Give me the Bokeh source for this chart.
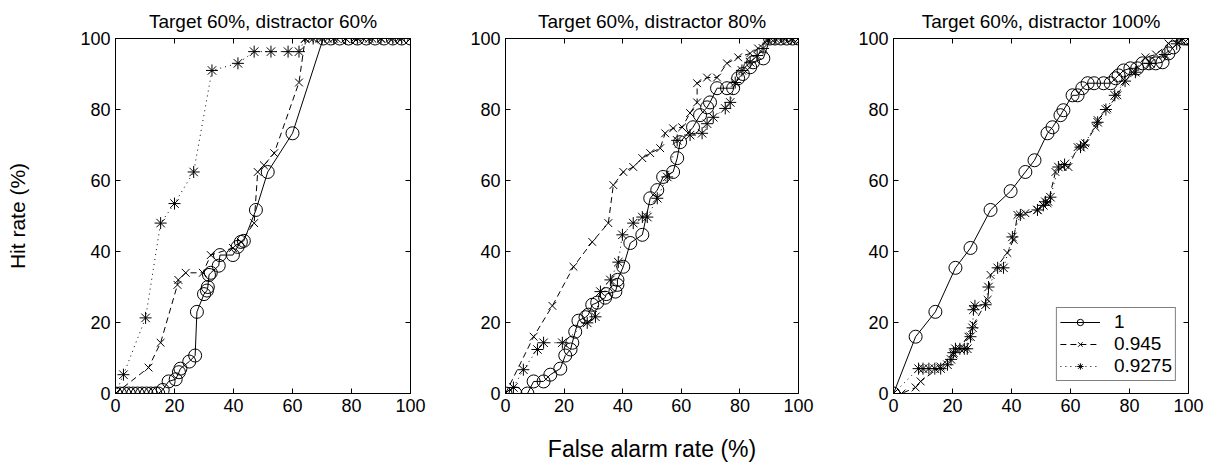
from bokeh.plotting import figure
from bokeh.layouts import row
from bokeh.models import LinearAxis, FixedTicker, Range1d, Legend, LegendItem
from bokeh.embed import file_html
from bokeh.resources import INLINE

titles = ["Target 60%, distractor 60%", "Target 60%, distractor 80%", "Target 60%, distractor 100%"]
series_labels = ["1", "0.945", "0.9275"]
ticks = [0, 20, 40, 60, 80, 100]
x_title = "False alarm rate (%)"
y_title = "Hit rate (%)"

# ---- Panel 1 (distractor 60%) ----
p1_s1_x = [0, 1.5, 3, 4.5, 6, 7.5, 9, 10.5, 12, 13.5, 14.5, 16, 18, 20.4, 21.5, 22, 25, 27, 27.6, 30, 31, 31.3, 31.7, 32.3, 35, 35.4, 39.8, 41.4, 42.5, 43.5, 47.6, 51.6, 60, 70.4, 73, 76, 79, 82, 85, 88, 91, 94, 97, 100]
p1_s1_y = [0, 0, 0, 0, 0, 0, 0, 0, 0, 0, 0, 1, 3.4, 4, 6, 7, 9, 10.7, 23, 28, 29, 30, 33.4, 34, 36, 39, 39, 41.3, 42.7, 43, 51.7, 62.4, 73.3, 100, 100, 100, 100, 100, 100, 100, 100, 100, 100, 100]
p1_s2_x = [0, 11.2, 15.3, 21, 21.3, 23.8, 29.6, 32.3, 39.8, 42.5, 47, 48.2, 50.3, 53.8, 62.2, 64.3, 66, 69, 72, 75, 78, 81, 84, 87, 90, 93, 96, 100]
p1_s2_y = [0, 7.3, 14.3, 30.6, 32, 34, 34, 39, 41, 42.7, 48, 62.4, 64.3, 67.7, 87.6, 100, 100, 100, 100, 100, 100, 100, 100, 100, 100, 100, 100, 100]
p1_s3_x = [0, 2.7, 10.2, 15.3, 20, 26.5, 32.7, 41.5, 47, 52.7, 58.5, 62.2, 64.3, 67, 70, 74, 78, 82, 86, 90, 94, 97, 100]
p1_s3_y = [0, 5.3, 21.3, 48, 53.5, 62.4, 91, 93, 96.3, 96.3, 96.3, 96.3, 100, 100, 100, 100, 100, 100, 100, 100, 100, 100, 100]

# ---- Panel 2 (distractor 80%) ----
p2_s1_x = [0, 3.4, 7.5, 9.6, 13, 15.3, 18.7, 20.4, 22.2, 22.8, 23.8, 24.9, 27.3, 28.3, 29.6, 31.3, 34, 34.4, 37.5, 38.2, 38.2, 40.2, 42.6, 46.7, 49.4, 51.8, 53.8, 57.2, 58.6, 59.6, 64, 66.4, 68.8, 69.8, 72.2, 75.6, 77.7, 79.4, 81, 83.5, 84.5, 88, 90.3, 92, 94, 96, 98, 100]
p2_s1_y = [0, 0, 0, 3.4, 3.4, 5.3, 7, 10.7, 12.4, 14.3, 17.4, 20.5, 21.5, 22.2, 25, 25.6, 27, 28, 28.7, 30.6, 32, 35.7, 42.4, 44.7, 55, 57.3, 61, 62.4, 66.3, 70.8, 75, 78.4, 80.6, 82, 86, 86, 86, 88.8, 90, 91.9, 93.3, 94.4, 100, 100, 100, 100, 100, 100]
p2_s2_x = [0, 9.6, 16, 23.2, 29.6, 35.1, 36.8, 40.2, 43.6, 46.7, 49.4, 52.8, 54.5, 57.2, 60.3, 63, 65.4, 65.4, 68.8, 72.2, 75.6, 79.4, 83.5, 86.2, 89.3, 90.5, 93, 95.5, 98, 100]
p2_s2_y = [0, 16, 24.7, 35.7, 42.7, 48, 58.7, 62.4, 63.8, 66.3, 67.7, 69.1, 73.3, 74.7, 75, 79, 82, 87.4, 89, 89, 93, 94.7, 95.8, 97.2, 99.4, 100, 100, 100, 100, 100]
p2_s3_x = [0, 2.7, 6.1, 10.9, 13, 19.4, 27.9, 30.7, 32.4, 35.8, 38.5, 39.9, 43.6, 46.7, 48.4, 51.8, 55.2, 58.6, 63, 67.1, 68.8, 70.9, 75, 76.7, 78.4, 80.7, 83.5, 85.9, 87.9, 89.6, 92, 95, 97.5, 100]
p2_s3_y = [0, 1.7, 6.7, 12.4, 14.3, 14.3, 19.9, 21.6, 28.7, 32, 37, 44.7, 48, 49.7, 49.7, 55, 61, 71.3, 72.8, 73.3, 76, 77.8, 80.3, 82, 87.6, 91, 93.3, 95.2, 97.2, 100, 100, 100, 100, 100]

# ---- Panel 3 (distractor 100%) ----
p3_s1_x = [0, 7.5, 14.2, 21, 26.1, 32.9, 39.7, 44.7, 47.8, 52.2, 53.9, 56.6, 57.6, 60.7, 62.4, 64, 65.8, 68, 71.2, 73.6, 75.3, 76.3, 78, 80.3, 82.6, 84.4, 86.6, 88.9, 91.2, 93.2, 94.9, 98.3, 99.4, 100]
p3_s1_y = [0, 16, 23, 35.4, 41, 51.7, 57, 62.4, 65.7, 73.3, 75, 78.4, 79.8, 84, 84, 86, 87.4, 87.4, 87.4, 87.4, 88.8, 89.6, 91, 91.6, 91.6, 93, 93, 93, 93.3, 95.8, 97.5, 100, 100, 100]
p3_s2_x = [0, 2.7, 7.5, 9.2, 15.9, 20.3, 25.4, 27.1, 31.9, 32.9, 38.6, 40.7, 42, 44.7, 48.8, 52.2, 52.5, 54.9, 57.3, 59.3, 62.4, 65, 68.5, 69.2, 72.5, 75.9, 78.5, 81, 85.4, 89, 93.2, 98, 100]
p3_s2_y = [0, 0, 1.7, 3.4, 7.6, 11, 16, 19.4, 26.4, 33.4, 39.6, 43.3, 50.3, 50.8, 51.7, 53.6, 54, 62.4, 63.8, 63.8, 69.4, 70.5, 75, 77, 80.3, 84, 88, 90.5, 94.7, 95.5, 98.6, 100, 100]
p3_s3_x = [0, 8.5, 10, 12, 14, 16, 18.3, 19.5, 20.3, 21, 22.5, 24, 25, 26.1, 26.8, 27.1, 27.6, 31.2, 32.2, 35.3, 37.3, 40.3, 43, 48.8, 50.8, 51.5, 53.2, 55.9, 58, 63.4, 64.5, 69.2, 72, 75, 78.5, 82, 87, 92, 96, 100]
p3_s3_y = [0, 7, 7, 7, 7, 7, 8.1, 9.6, 11.5, 12.6, 12.6, 12.6, 12.6, 16, 18.5, 23.6, 24.7, 25, 30, 35.4, 35.4, 44.1, 50.3, 51.7, 53, 54, 55.3, 63.8, 64.5, 69.4, 70, 76.4, 80, 84, 88, 90.5, 93, 95.5, 98.5, 100]

panels = [
    [(p1_s1_x, p1_s1_y), (p1_s2_x, p1_s2_y), (p1_s3_x, p1_s3_y)],
    [(p2_s1_x, p2_s1_y), (p2_s2_x, p2_s2_y), (p2_s3_x, p2_s3_y)],
    [(p3_s1_x, p3_s1_y), (p3_s2_x, p3_s2_y), (p3_s3_x, p3_s3_y)],
]

FONT = "Liberation Sans"
TICK_FS = "18px"

# geometry: (fig width, border left, border right)
geom = [(460, 115, 50), (390, 45, 52), (360, 43, 22)]
line_dashes = ["solid", "6 4", "1 4"]
markers = ["circle", "x", "asterisk"]
msizes = [13, 11, 12]


def style_axis(ax, labels=True):
    ax.ticker = FixedTicker(ticks=ticks)
    ax.major_tick_in = 5
    ax.major_tick_out = 0
    ax.minor_tick_line_color = None
    ax.axis_line_color = "black"
    ax.major_tick_line_color = "black"
    ax.major_label_text_font = FONT
    ax.major_label_standoff = 5
    if labels:
        ax.major_label_text_font_size = TICK_FS
        ax.major_label_text_color = "black"
    else:
        ax.major_label_text_font_size = "1px"
        ax.major_label_text_color = None
        ax.major_label_standoff = 0


figs = []
for i in range(3):
    W, bl, br = geom[i]
    p = figure(width=W, height=464, x_range=Range1d(0, 100), y_range=Range1d(0, 100),
               output_backend="svg", toolbar_location=None, title=titles[i],
               min_border_left=bl, min_border_right=br, min_border_top=38, min_border_bottom=70)
    p.xgrid.visible = False
    p.ygrid.visible = False
    p.outline_line_color = "black"
    p.outline_line_width = 1
    p.background_fill_color = "white"
    p.border_fill_color = "white"
    p.title.align = "center"
    p.title.text_font = FONT
    p.title.text_font_size = "19px"
    p.title.text_font_style = "normal"
    p.title.text_color = "black"
    p.title.standoff = 13
    bottom_ax = p.below[0]
    left_ax = p.left[0]
    style_axis(bottom_ax)
    style_axis(left_ax)
    top_ax = LinearAxis()
    right_ax = LinearAxis()
    style_axis(top_ax, labels=False)
    style_axis(right_ax, labels=False)
    p.add_layout(top_ax, "above")
    p.add_layout(right_ax, "right")

    items = []
    for k, (xs, ys) in enumerate(panels[i]):
        lr = p.line(xs, ys, line_color="black", line_width=1, line_dash=line_dashes[k])
        sr = p.scatter(xs, ys, marker=markers[k], size=msizes[k], line_color="black",
                       fill_color=None, line_width=1)
        items.append(LegendItem(label=series_labels[k], renderers=[lr, sr]))
    if i == 2:
        leg = Legend(items=items, location="bottom_right")
        leg.border_line_color = "black"
        leg.border_line_width = 1
        leg.label_text_font = FONT
        leg.label_text_font_size = "19px"
        leg.label_text_color = "black"
        leg.glyph_width = 40
        leg.glyph_height = 16
        leg.label_height = 16
        leg.label_standoff = 14
        leg.spacing = 0
        leg.padding = 3
        leg.margin = 12
        leg.background_fill_alpha = 1
        p.add_layout(leg)
    figs.append(p)

yl = figs[0].left[0]
yl.axis_label = y_title
yl.axis_label_text_font = FONT
yl.axis_label_text_font_size = "21px"
yl.axis_label_text_font_style = "normal"
yl.axis_label_text_color = "black"
yl.axis_label_standoff = 48

xl = figs[1].below[0]
xl.axis_label = x_title
xl.axis_label_text_font = FONT
xl.axis_label_text_font_size = "23px"
xl.axis_label_text_font_style = "normal"
xl.axis_label_text_color = "black"
xl.axis_label_standoff = 21

layout = row(*figs, spacing=0)
open("out.html", "w").write(file_html(layout, INLINE))
